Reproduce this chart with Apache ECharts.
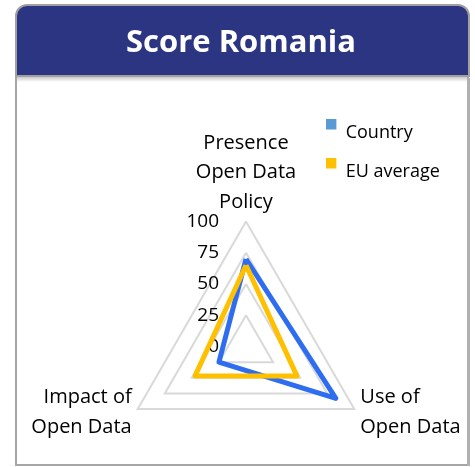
<!DOCTYPE html>
<html>
<head>
<meta charset="utf-8">
<script src="https://cdn.jsdelivr.net/npm/echarts@6/dist/echarts.min.js"></script>
<style>
html,body{margin:0;padding:0;background:#fff;}
#chart{width:475px;height:467px;}
</style>
</head>
<body>
<div id="chart"></div>
<script>
const titleText = 'Score Romania';
const indicatorNames = ['Presence\nOpen Data\nPolicy', 'Impact of\nOpen Data', 'Use of\nOpen Data'];
const seriesNames = ['Country', 'EU average'];
const countryValues = [70, 25, 83];
const euValues = [65, 47, 47];
const tickLabels = [0, 25, 50, 75, 100];

const FONT = 'Open Sans';
const chart = echarts.init(document.getElementById('chart'), null, {renderer: 'canvas'});

const legendIcon = 'path://M0,0h10v10h-10zM0,25.9h0.1v0.1h-0.1z';

const option = {
  backgroundColor: '#ffffff',
  animation: false,
  graphic: [
    {type: 'rect', shape: {x: 16, y: 76, width: 452, height: 389}, style: {fill: '#ffffff', stroke: '#a6a6a6', lineWidth: 2}, z: 0},
    {type: 'rect', shape: {x: 467, y: 78, width: 3, height: 388}, style: {fill: '#b0b0b0'}, z: 1},
    {type: 'rect', shape: {x: 17, y: 76, width: 450, height: 6}, style: {fill: new echarts.graphic.LinearGradient(0, 0, 0, 1, [{offset: 0, color: 'rgba(0,0,0,0.25)'}, {offset: 1, color: 'rgba(0,0,0,0)'}])}, z: 1},
    {type: 'rect', shape: {x: 16, y: 5, width: 453, height: 71, r: [11, 11, 0, 0]}, style: {fill: '#2b3582', stroke: '#a0a0a0', lineWidth: 2}, z: 2},
    {type: 'text', x: 241, y: 43, style: {text: titleText, fill: '#ffffff', font: 'bold 31px "Open Sans"', align: 'center', verticalAlign: 'middle'}, z: 3}
  ],
  legend: {
    orient: 'vertical',
    left: 321,
    top: 114,
    itemWidth: 11,
    itemHeight: 27,
    itemGap: 12,
    icon: legendIcon,
    data: [
      {name: seriesNames[0], itemStyle: {color: '#5b9bd5'}},
      {name: seriesNames[1], itemStyle: {color: '#ffc000'}}
    ],
    textStyle: {fontFamily: FONT, fontSize: 18, color: '#000', padding: [0, 0, 0, 4]}
  },
  radar: {
    center: [246, 346.5],
    radius: 125,
    startAngle: 90,
    splitNumber: 4,
    shape: 'polygon',
    indicator: indicatorNames.map((n, i) => ({
      name: n, min: 0, max: tickLabels[tickLabels.length - 1],
      axisLabel: {show: i === 0},
      nameTextStyle: i === 0 ? {padding: [0, 0, -6, 0]} : {}
    })),
    axisName: {color: '#000', fontFamily: FONT, fontSize: 20, lineHeight: 29.5},
    nameGap: 7,
    axisLine: {show: false},
    axisTick: {show: false},
    axisLabel: {show: true, color: '#000', fontFamily: FONT, fontSize: 19, margin: 27, formatter: v => String(v)},
    splitLine: {lineStyle: {color: '#d9d9d9', width: 2}},
    splitArea: {show: false}
  },
  series: [{
    type: 'radar',
    symbol: 'none',
    data: [
      {name: seriesNames[0], value: countryValues, lineStyle: {color: '#2f6df0', width: 5}, itemStyle: {color: '#5b9bd5'}},
      {name: seriesNames[1], value: euValues, lineStyle: {color: '#ffc000', width: 5}, itemStyle: {color: '#ffc000'}}
    ]
  }]
};
chart.setOption(option);
</script>
</body>
</html>
